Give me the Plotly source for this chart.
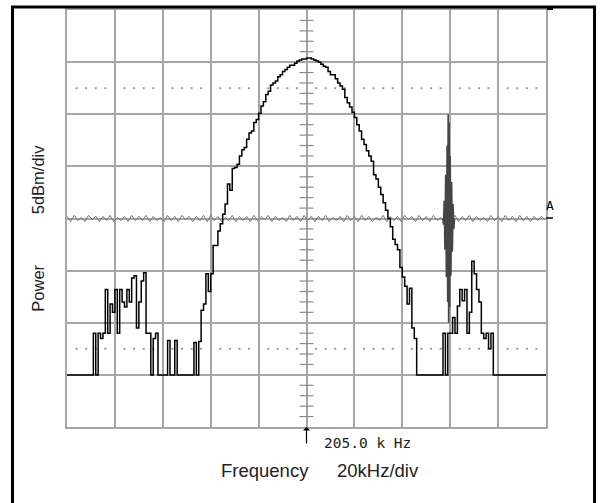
import numpy as np
import plotly.graph_objects as go

# ---------------- data ----------------
# black spectrum trace, one value per 1 kHz from 105 to 305 kHz (dB, top of screen = 0)
black_start_khz = 105
black_level = (
    [-35] * 11 +                                   # 105..115
    [-31, -35, -31, -31.5, -31, -26.8, -31, -28.2, -29, -26.8,   # 116..125
     -31, -26.8, -28, -28.5, -26.8, -28, -25.7, -25.5, -30.5, -28,  # 126..135
     -26, -25.2, -31, -31, -35, -31.5, -31] +      # 136..142
    [-35] * 4 +                                    # 143..146
    [-31.7, -35, -35, -31.7] +                     # 147..150
    [-35] * 7 +                                    # 151..157
    [-31.9, -35, -31.8, -28.8, -28.2, -25.3, -27.0, -25.3,          # 158..165
     -22.6, -22.6, -21.2, -20.5, -19.6, -18.6, -16.7, -17.3, -15.2, -15.1,  # 166..175
     -14.8, -14.0, -13.4, -13.2, -12.4, -11.8, -11.6, -10.8, -10.5, -9.9,   # 176..185
     -9.2, -8.8, -8.1, -7.8, -7.2, -7.0, -6.8, -6.4, -6.2, -5.9,            # 186..195
     -5.7, -5.5, -5.3, -5.3, -5.1, -4.9, -4.8, -4.7, -4.7, -4.6,            # 196..205
     -4.6, -4.7, -4.8, -4.9, -5.0, -5.2, -5.4, -5.5, -5.9, -6.2,            # 206..215
     -6.2, -6.6, -7.0, -7.3, -7.6, -8.4, -8.9, -9.3, -9.8, -10.3,           # 216..225
     -11.0, -11.6, -12.4, -12.9, -13.5, -14.0, -14.5, -15.8, -16.2, -17.0,  # 226..235
     -17.7, -18.5, -19.2, -20.0, -20.8, -22.0, -22.5, -23.0, -24.7, -25.6,  # 236..245
     -26.5, -28.2, -26.7, -30.5, -31.5] +          # 246..250
    [-35] * 11 +                                   # 251..261
    [-31, -35, -31, -31, -29.5, -31, -28.4, -26.8, -27.9, -26.8,   # 262..271
     -31, -29, -24.1, -25.3, -26.8, -28, -31, -31.5, -31, -32.5,   # 272..281
     -31] +                                        # 282
    [-35] * 23                                     # 283..305
)
black_freq = black_start_khz + np.arange(len(black_level))

# grey reference trace: noise around -20 dB, one value per 1.5 kHz
grey_level = [
    -19.8, -20.3, -19.7, -20.2, -19.9, -20.3, -19.7, -20.1, -19.8, -20.3,
    -19.8, -20.2, -19.7, -20.3, -19.9, -20.2, -19.8, -20.3, -19.7, -20.2,
    -19.8, -20.2, -19.7, -20.3, -19.8, -20.2, -19.9, -20.3, -19.7, -20.2,
    -19.8, -20.3, -19.7, -20.1, -19.8, -20.3, -19.8, -20.2, -19.7, -20.3,
    -19.7, -20.2, -19.8, -20.3, -19.9, -20.2, -19.7, -20.3, -19.8, -20.2,
    -19.8, -20.3, -19.7, -20.2, -19.8, -20.1, -19.7, -20.3, -19.8, -20.2,
    -19.9, -20.3, -19.7, -20.2, -19.8, -20.3, -19.7, -20.2, -19.8, -20.3,
    -19.8, -20.2, -19.7, -20.3, -19.9, -20.2, -19.8, -20.3, -19.7, -20.2,
    -19.8, -20.3, -19.7, -20.2, -19.8, -20.3, -19.9, -20.2, -19.7, -20.3,
    -19.8, -20.2, -19.8, -20.3, -19.7, -20.1, -19.8, -20.3, -19.7, -20.2,
    -19.8, -20.3, -19.7, -20.2, -19.9, -20.3, -19.8, -20.2, -19.7, -20.3,
    -19.8, -20.2, -19.7, -20.3, -19.8, -20.2, -19.9, -20.3, -19.7, -20.2,
    -19.8, -20.3, -19.7, -20.2, -19.8, -20.3, -19.7, -20.2, -19.8, -20.3,
    -19.8, -20.2, -19.8, -20.1,
]
grey_freq = 105 + 1.5 * np.arange(len(grey_level))

# burst on the grey trace near 264 kHz
spike_freq = [261.9, 262.2, 262.5, 262.8, 263.1, 263.4, 263.7, 263.95, 264.15, 264.35,
              264.55, 264.75, 265.0, 265.3, 265.6, 265.9, 266.2, 266.5, 266.8]
spike_level = [-20.0, -20.6, -18.3, -23.0, -15.8, -25.6, -13.0, -28.0, -10.0, -30.0,
               -10.8, -28.5, -14.0, -25.5, -16.5, -23.2, -18.6, -21.0, -20.0]

center_khz = 205.0
khz_per_div = 20
db_per_div = 5
x_range = [105, 305]
y_range = [-40, 0]
dotted_rows_db = [-7.5, -32.5]

# ---------------- figure ----------------
GRID = "#a6a6a6"
fig = go.Figure()

# graticule dots
dot_x, dot_y = [], []
for yv in dotted_rows_db:
    for f in range(x_range[0], x_range[1] + 1, 4):
        if (f - x_range[0]) % khz_per_div != 0:
            dot_x.append(f)
            dot_y.append(yv)
fig.add_trace(go.Scatter(x=dot_x, y=dot_y, mode="markers",
                         marker=dict(symbol="square", size=2, color="#9a9a9a", line=dict(width=0)),
                         hoverinfo="skip", showlegend=False))

# centre-line minor ticks
tick_y = [v for v in range(y_range[0] + 1, y_range[1]) if v % db_per_div != 0]
fig.add_trace(go.Scatter(x=[center_khz] * len(tick_y), y=tick_y, mode="markers",
                         marker=dict(symbol="line-ew", size=10, line=dict(width=1.2, color="#8c8c8c")),
                         hoverinfo="skip", showlegend=False))

fig.add_trace(go.Scatter(x=grey_freq, y=grey_level, mode="lines",
                         line=dict(color="#757575", width=1), showlegend=False))
fig.add_trace(go.Scatter(x=spike_freq, y=spike_level, mode="lines",
                         line=dict(color="#454545", width=1.6), showlegend=False))
fig.add_trace(go.Scatter(x=black_freq, y=black_level, mode="lines",
                         line=dict(color="black", width=1.5, shape="hv"), showlegend=False))

fig.update_xaxes(range=x_range, tick0=x_range[0], dtick=khz_per_div, showgrid=True,
                 gridcolor=GRID, gridwidth=2, showticklabels=False, ticks="",
                 zeroline=False, showline=True, linecolor=GRID, linewidth=2, mirror=True)
fig.update_yaxes(range=y_range, tick0=y_range[0], dtick=db_per_div, showgrid=True,
                 gridcolor=GRID, gridwidth=2, showticklabels=False, ticks="",
                 zeroline=False, showline=True, linecolor=GRID, linewidth=2, mirror=True)

TXT = dict(family="Liberation Sans, Arial, sans-serif", size=18.5, color="#222222")
VTXT = dict(family="Liberation Sans, Arial, sans-serif", size=16.5, color="#222222")
fig.add_annotation(text="5dBm/div", x=-0.0606, y=0.594, textangle=-90, font=VTXT,
                   xref="paper", yref="paper", showarrow=False, xanchor="center", yanchor="middle")
fig.add_annotation(text="Power", x=-0.0606, y=0.334, textangle=-90, font=VTXT,
                   xref="paper", yref="paper", showarrow=False, xanchor="center", yanchor="middle")
fig.add_annotation(text="Frequency", x=0.4134, y=-0.105, font=TXT,
                   xref="paper", yref="paper", showarrow=False, xanchor="center", yanchor="middle")
fig.add_annotation(text="20kHz/div", x=0.649, y=-0.105, font=TXT,
                   xref="paper", yref="paper", showarrow=False, xanchor="center", yanchor="middle")
fig.add_annotation(xref="paper", yref="paper", x=0.532, y=-0.038, text="205.0 k Hz",
                   showarrow=False, xanchor="left", yanchor="middle",
                   font=dict(family="DejaVu Sans Mono, monospace", size=14.5, color="#222222"))
fig.add_annotation(xref="paper", yref="paper", x=1.0084, y=0.532, text="A",
                   showarrow=False, xanchor="center", yanchor="middle",
                   font=dict(family="DejaVu Sans Mono, monospace", size=13, color="black"))
fig.add_annotation(xref="x", yref="paper", x=center_khz, y=0, ax=0, ay=18, text="",
                   showarrow=True, arrowhead=1, arrowsize=1, arrowwidth=1.2, arrowcolor="black")

fig.add_shape(type="rect", xref="paper", yref="paper", x0=-0.1138, x1=1.1013,
              y0=-0.19, y1=1.0072, line=dict(color="black", width=3))
fig.add_shape(type="rect", xref="paper", yref="paper", x0=1.0021, x1=1.0146,
              y0=1.0, y1=1.0072, line=dict(width=0), fillcolor="black")
fig.add_shape(type="line", xref="paper", yref="paper", x0=1.0, x1=1.0146,
              y0=0.5012, y1=0.5012, line=dict(color="black", width=1.5))

fig.update_layout(width=600, height=503, margin=dict(l=67, r=54, t=8, b=76),
                  plot_bgcolor="white", paper_bgcolor="white", showlegend=False)

fig.write_html("out.html", config={"displayModeBar": False},
               post_script="document.body.style.margin='0px';")
